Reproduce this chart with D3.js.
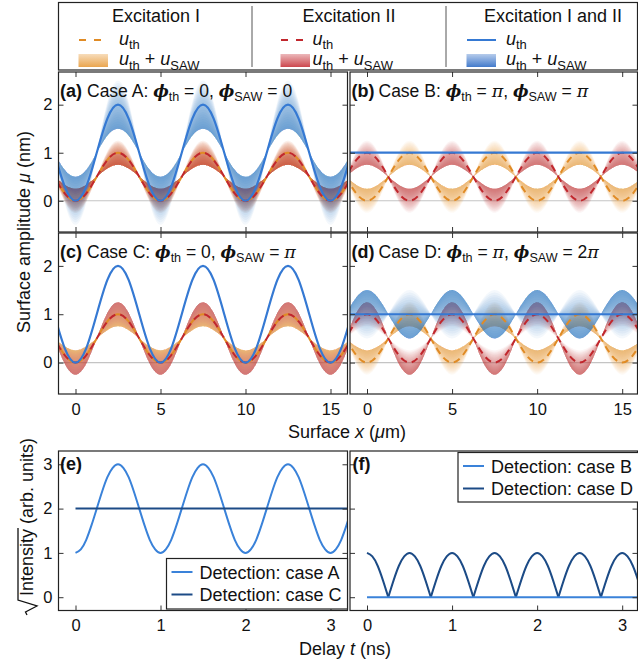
<!DOCTYPE html>
<html>
<head>
<meta charset="utf-8">
<script src="https://cdn.jsdelivr.net/npm/d3@7"></script>
<style>
body{margin:0;background:#fff;}
svg{font-family:"Liberation Sans",Arial,sans-serif;}
</style>
</head>
<body>
<svg id="fig" width="638" height="664"></svg>
<script>
// surface position samples (um)
var xPos = [-1.25,-0.625,0,0.625,1.25,1.875,2.5,3.125,3.75,4.375,5,5.625,6.25,6.875,7.5,8.125,8.75,9.375,10,10.625,11.25,11.875,12.5,13.125,13.75,14.375,15,15.625,16.25]
// thermal displacement, single excitation (min at x=0) and shifted by pi (max at x=0)
var uValley = [0.5,0.15,0,0.15,0.5,0.85,1,0.85,0.5,0.15,0,0.15,0.5,0.85,1,0.85,0.5,0.15,0,0.15,0.5,0.85,1,0.85,0.5,0.15,0,0.15,0.5]
var uPeak = [0.5,0.85,1,0.85,0.5,0.15,0,0.15,0.5,0.85,1,0.85,0.5,0.15,0,0.15,0.5,0.85,1,0.85,0.5,0.15,0,0.15,0.5,0.85,1,0.85,0.5]
var uDouble = [1,0.29,0,0.29,1,1.71,2,1.71,1,0.29,0,0.29,1,1.71,2,1.71,1,0.29,0,0.29,1,1.71,2,1.71,1,0.29,0,0.29,1]
var uFlat = [1,1,1,1,1,1,1,1,1,1,1,1,1,1,1,1,1,1,1,1,1,1,1,1,1,1,1,1,1]
// SAW amplitude along x
var sawI = [0,0.18,0.25,0.18,0,-0.18,-0.25,-0.18,0,0.18,0.25,0.18,0,-0.18,-0.25,-0.18,0,0.18,0.25,0.18,0,-0.18,-0.25,-0.18,0,0.18,0.25,0.18,0]
var sawIneg = [0,-0.18,-0.25,-0.18,0,0.18,0.25,0.18,0,-0.18,-0.25,-0.18,0,0.18,0.25,0.18,0,-0.18,-0.25,-0.18,0,0.18,0.25,0.18,0,-0.18,-0.25,-0.18,0]
var sawSum = [0,0.35,0.5,0.35,0,-0.35,-0.5,-0.35,0,0.35,0.5,0.35,0,-0.35,-0.5,-0.35,0,0.35,0.5,0.35,0,-0.35,-0.5,-0.35,0,0.35,0.5,0.35,0]

// detection vs delay (ns)
var tDelay = [0,0.0625,0.125,0.1875,0.25,0.3125,0.375,0.4375,0.5,0.5625,0.625,0.6875,0.75,0.8125,0.875,0.9375,1,1.0625,1.125,1.1875,1.25,1.3125,1.375,1.4375,1.5,1.5625,1.625,1.6875,1.75,1.8125,1.875,1.9375,2,2.0625,2.125,2.1875,2.25,2.3125,2.375,2.4375,2.5,2.5625,2.625,2.6875,2.75,2.8125,2.875,2.9375,3,3.0625,3.125,3.1875,3.25]
var detA = [1,1.08,1.29,1.62,2,2.38,2.71,2.92,3,2.92,2.71,2.38,2,1.62,1.29,1.08,1,1.08,1.29,1.62,2,2.38,2.71,2.92,3,2.92,2.71,2.38,2,1.62,1.29,1.08,1,1.08,1.29,1.62,2,2.38,2.71,2.92,3,2.92,2.71,2.38,2,1.62,1.29,1.08,1,1.08,1.29,1.62,2]
var detD = [1,0.92,0.71,0.38,0,0.38,0.71,0.92,1,0.92,0.71,0.38,0,0.38,0.71,0.92,1,0.92,0.71,0.38,0,0.38,0.71,0.92,1,0.92,0.71,0.38,0,0.38,0.71,0.92,1,0.92,0.71,0.38,0,0.38,0.71,0.92,1,0.92,0.71,0.38,0,0.38,0.71,0.92,1,0.92,0.71,0.38,0]
var tFlat = [0, 3.25]
var detC = [2, 2]
var detB = [0, 0]

var xTicks = [0,5,10,15]
var uTicks = [0,1,2]
var tTicks = [0,1,2,3]
var iTicks = [0,1,2,3]
var legendTitles = ["Excitation I","Excitation II","Excitation I and II"]

var colOr = "#e08b25", colRd = "#c1272d", colBl = "#3579d3", colNavy = "#1c4b86"
var bandOr = "#e89c3c", bandRd = "#c7343b", bandBl = "#2e6cc6"

var svg = d3.select("#fig")
var defs = svg.append("defs")

var leftCol = {x0:58.5, x1:347.5}
var rightCol = {x0:350, x1:637.5}
var rows = [{y0:72, y1:232},{y0:233, y1:394},{y0:451, y1:610.5}]

var clipN = 0
var makePanel = function(col, row, xDom, yDom)
{
    var xS = d3.scaleLinear().domain(xDom).range([col.x0, col.x1])
    var yS = d3.scaleLinear().domain(yDom).range([row.y1, row.y0])
    var id = "clip"+(clipN++)
    defs.append("clipPath").attr("id", id)
        .append("rect")
        .attr("x", col.x0).attr("y", row.y0)
        .attr("width", col.x1-col.x0).attr("height", row.y1-row.y0)
    var g = svg.append("g").attr("clip-path", "url(#"+id+")")
    return {xS:xS, yS:yS, g:g, col:col, row:row}
}

var frame = function(p, xt, yt, xLab, yLab, topTicks)
{
    var ax = svg.append("g")
    ax.append("g").attr("transform","translate("+p.col.x0+",0)")
        .call(d3.axisLeft(p.yS).tickValues(yt).tickSize(-5).tickPadding(6)
              .tickFormat(yLab ? d3.format("d") : ""))
    ax.append("g").attr("transform","translate("+p.col.x1+",0)")
        .call(d3.axisRight(p.yS).tickValues(yt).tickSize(-5).tickFormat(""))
    ax.append("g").attr("transform","translate(0,"+p.row.y1+")")
        .call(d3.axisBottom(p.xS).tickValues(xt).tickSize(-5).tickPadding(9)
              .tickFormat(xLab ? d3.format("d") : ""))
    if (topTicks)
        ax.append("g").attr("transform","translate(0,"+p.row.y0+")")
            .call(d3.axisTop(p.xS).tickValues(xt).tickSize(-5).tickFormat(""))
    ax.selectAll("g")
        .attr("font-size", 16.5)
        .attr("font-family", "'Liberation Sans', Arial, sans-serif")
    ax.selectAll(".domain").remove()
    ax.selectAll(".tick line").attr("stroke", "#333").attr("stroke-width", 1)
    ax.selectAll(".tick text").attr("fill", "#111")
    svg.append("rect")
        .attr("x", p.col.x0).attr("y", p.row.y0)
        .attr("width", p.col.x1-p.col.x0).attr("height", p.row.y1-p.row.y0)
        .attr("fill", "none").attr("stroke", "#222").attr("stroke-width", 1.2)
}

// rich text with italic / subscript pieces
var addRich = function(parent, x, y, size, pieces)
{
    var t = parent.append("text").attr("x", x).attr("y", y)
        .attr("font-size", size).attr("fill", "#111")
    var shift = 0
    pieces.forEach(function(p){
        var sp = t.append("tspan").text(p.s)
        var dy = 0
        if (p.sub) { sp.attr("font-size", size*0.72); dy = size*0.26 }
        sp.attr("dy", dy-shift)
        shift = dy
        if (p.it) sp.attr("font-style", "italic")
        if (p.serif) sp.attr("font-family", "'DejaVu Serif', serif")
        if (p.b) sp.attr("font-weight", "bold")
        if (p.fs) sp.attr("font-size", p.fs)
    })
    return t
}

var valPieces = function(v)
{
    if (v == "0") return [{s:"0"}]
    if (v == "π") return [{s:"π", it:true, serif:true}]
    return [{s:"2"},{s:"π", it:true, serif:true}]
}

var drawBand = function(p, u, saw, color)
{
    var nL = 20
    for (var i = 0; i < nL; i++)
    {
        var s = -1 + 2*i/nL
        var area = d3.area()
            .x(function(d,j){return p.xS(xPos[j])})
            .y0(function(d,j){return p.yS(u[j] + saw[j]*s)})
            .y1(function(d,j){return p.yS(u[j] + saw[j])})
            .curve(d3.curveNatural)
        p.g.append("path").datum(u)
            .attr("d", area)
            .attr("fill", color)
            .attr("fill-opacity", 0.05)
    }
}

var drawCurve = function(p, xs, ys, color, width, dash, offset)
{
    var line = d3.line()
        .x(function(d,j){return p.xS(xs[j])})
        .y(function(d){return p.yS(d)})
        .curve(d3.curveNatural)
    var path = p.g.append("path").datum(ys)
        .attr("d", line)
        .attr("fill", "none")
        .attr("stroke", color)
        .attr("stroke-width", width)
    if (dash) path.attr("stroke-dasharray", dash).attr("stroke-dashoffset", offset || 0)
    return path
}

var cases = [
    {lab:"(a)", name:"A", th:"0", saw:"0", col:leftCol, row:rows[0], or:[uValley,sawI], rd:[uValley,sawI], bl:[uDouble,sawSum]},
    {lab:"(b)", name:"B", th:"π", saw:"π", col:rightCol, row:rows[0], or:[uValley,sawI], rd:[uPeak,sawIneg], bl:[uFlat,null]},
    {lab:"(c)", name:"C", th:"0", saw:"π", col:leftCol, row:rows[1], or:[uValley,sawI], rd:[uValley,sawIneg], bl:[uDouble,null]},
    {lab:"(d)", name:"D", th:"π", saw:"2π", col:rightCol, row:rows[1], or:[uValley,sawI], rd:[uPeak,sawI], bl:[uFlat,sawSum]}
]

cases.forEach(function(c, k){
    var xDom = c.col == leftCol ? [-1, 16] : [-1, 15.9]
    var p = makePanel(c.col, c.row, xDom, [-0.65, 2.68])
    p.g.append("line")
        .attr("x1", c.col.x0).attr("x2", c.col.x1)
        .attr("y1", p.yS(0)).attr("y2", p.yS(0))
        .attr("stroke", "#c4c4c4").attr("stroke-width", 1.2)
    drawBand(p, c.or[0], c.or[1], bandOr)
    drawBand(p, c.rd[0], c.rd[1], bandRd)
    if (c.bl[1]) drawBand(p, c.bl[0], c.bl[1], bandBl)
    drawCurve(p, xPos, c.or[0], colOr, 2, "7,5", 0)
    drawCurve(p, xPos, c.rd[0], colRd, 2, "7,5", 6)
    drawCurve(p, xPos, c.bl[0], colBl, 2.2)
    frame(p, xTicks, uTicks, k >= 2, c.col == leftCol, true)

    svg.append("text").text(c.lab)
        .attr("x", c.col.x0+1.5).attr("y", c.row.y0+24.5)
        .attr("font-size", 18).attr("font-weight", "bold").attr("fill", "#111")
    var pieces = [{s:"Case "+c.name+": "},{s:"ϕ", it:true, serif:true, b:true, fs:16.5},{s:"th", sub:true},{s:" = "}]
        .concat(valPieces(c.th))
        .concat([{s:", "},{s:"ϕ", it:true, serif:true, b:true, fs:16.5},{s:"SAW", sub:true},{s:" = "}])
        .concat(valPieces(c.saw))
    addRich(svg, c.col.x0+28.5, c.row.y0+24.5, 17.5, pieces)
})

// detection panels
var pe = makePanel(leftCol, rows[2], [-0.2, 3.2], [-0.3, 3.3])
drawCurve(pe, tDelay, detA, "#3a82d9", 2)
drawCurve(pe, tFlat, detC, colNavy, 2)
frame(pe, tTicks, iTicks, true, true, false)

var pf = makePanel(rightCol, rows[2], [-0.2, 3.18], [-0.3, 3.3])
// arches of case D split at the zeros
var seg = {t:[], v:[]}
detD.forEach(function(v, j){
    seg.t.push(tDelay[j]); seg.v.push(v)
    if (v == 0 || j == detD.length-1)
    {
        drawCurve(pf, seg.t, seg.v, colNavy, 2)
        seg = {t:[tDelay[j]], v:[v]}
    }
})
drawCurve(pf, tFlat, detB, "#3a82d9", 2)
frame(pf, tTicks, iTicks, true, false, false)

svg.append("text").text("(e)").attr("x", leftCol.x0+1.5).attr("y", rows[2].y0+18.5)
    .attr("font-size", 18).attr("font-weight", "bold").attr("fill", "#111")
svg.append("text").text("(f)").attr("x", rightCol.x0+2.5).attr("y", rows[2].y0+18.5)
    .attr("font-size", 18).attr("font-weight", "bold").attr("fill", "#111")

// detection legends
var detLegend = function(x0, y0, x1, y1, items)
{
    var lg = svg.append("g")
    lg.append("rect").attr("x", x0).attr("y", y0).attr("width", x1-x0).attr("height", y1-y0)
        .attr("fill", "#fff").attr("stroke", "#222").attr("stroke-width", 1.2)
    items.forEach(function(it, i){
        var yy = y0 + 13.5 + i*22.5
        lg.append("line").attr("x1", x0+5).attr("x2", x0+26).attr("y1", yy).attr("y2", yy)
            .attr("stroke", it.c).attr("stroke-width", 2)
        lg.append("text").text(it.t).attr("x", x0+33).attr("y", yy+6.5)
            .attr("font-size", 18).attr("fill", "#111")
    })
}
detLegend(166.5, 558.5, 347.5, 609, [{t:"Detection: case A", c:"#3a82d9"},{t:"Detection: case C", c:colNavy}])
detLegend(458, 452.5, 640, 502, [{t:"Detection: case B", c:"#3a82d9"},{t:"Detection: case D", c:colNavy}])

// axis titles
var yt = svg.append("text").attr("transform", "translate(30,232) rotate(-90)")
    .attr("text-anchor", "middle").attr("font-size", 18).attr("fill", "#111")
yt.append("tspan").text("Surface amplitude ")
yt.append("tspan").text("μ").attr("font-style", "italic")
yt.append("tspan").text(" (nm)")

var xt = svg.append("text").attr("x", 347).attr("y", 438)
    .attr("text-anchor", "middle").attr("font-size", 18).attr("fill", "#111")
xt.append("tspan").text("Surface ")
xt.append("tspan").text("x").attr("font-style", "italic")
xt.append("tspan").text(" (")
xt.append("tspan").text("μ").attr("font-style", "italic")
xt.append("tspan").text("m)")

var tt = svg.append("text").attr("x", 345).attr("y", 654.5)
    .attr("text-anchor", "middle").attr("font-size", 18).attr("fill", "#111")
tt.append("tspan").text("Delay ")
tt.append("tspan").text("t").attr("font-style", "italic")
tt.append("tspan").text(" (ns)")

// sqrt(Intensity) title
var sg = svg.append("g").attr("transform", "translate(33,596) rotate(-90)")
var inten = sg.append("text").text("Intensity").attr("x", 0).attr("y", 0)
    .attr("font-size", 18).attr("fill", "#111")
var wI = inten.node().getComputedTextLength()
sg.append("text").text("(arb. units)").attr("x", wI+5).attr("y", 0)
    .attr("font-size", 18).attr("fill", "#111")
sg.append("path")
    .attr("d", "M-19,-6 L-16,-7.5 L-10,4 L-4,-15 L"+(wI+1)+",-15")
    .attr("fill", "none").attr("stroke", "#111").attr("stroke-width", 1.3)

// top legend
var lgd = svg.append("g")
lgd.append("rect").attr("x", 58.5).attr("y", 2.5).attr("width", 579).attr("height", 67.5)
    .attr("fill", "#fff").attr("stroke", "#222").attr("stroke-width", 1.2)
;[252, 446].forEach(function(x){
    lgd.append("line").attr("x1", x).attr("x2", x).attr("y1", 6).attr("y2", 67)
        .attr("stroke", "#555").attr("stroke-width", 1)
})
var legCols = [
    {cx:156, x:79, lx:119, line:colOr, band:bandOr, dash:"7,8"},
    {cx:349, x:281, lx:312.5, line:colRd, band:bandRd, dash:"7,8"},
    {cx:553, x:467, lx:506, line:colBl, band:bandBl, dash:null}
]
legCols.forEach(function(lc, i){
    lgd.append("text").text(legendTitles[i]).attr("x", lc.cx).attr("y", 21.5)
        .attr("text-anchor", "middle").attr("font-size", 18).attr("fill", "#111")
    var l = lgd.append("line").attr("x1", lc.x).attr("x2", lc.x + (lc.dash ? 23 : 29))
        .attr("y1", 40).attr("y2", 40).attr("stroke", lc.line).attr("stroke-width", 2)
    if (lc.dash) l.attr("stroke-dasharray", lc.dash)
    var gid = "lg"+i
    var grad = defs.append("linearGradient").attr("id", gid)
        .attr("x1", 0).attr("x2", 0).attr("y1", 0).attr("y2", 1)
    grad.append("stop").attr("offset", "0%").attr("stop-color", lc.band).attr("stop-opacity", 0.35)
    grad.append("stop").attr("offset", "100%").attr("stop-color", lc.band).attr("stop-opacity", 0.9)
    lgd.append("rect").attr("x", lc.x-0.5).attr("y", 54).attr("width", 29.5).attr("height", 13)
        .attr("fill", "url(#"+gid+")")
    addRich(lgd, lc.lx, 44.5, 18, [{s:"u", it:true},{s:"th", sub:true}])
    addRich(lgd, lc.lx, 65, 18, [{s:"u", it:true},{s:"th", sub:true},{s:" + "},{s:"u", it:true},{s:"SAW", sub:true}])
})
</script>
</body>
</html>
